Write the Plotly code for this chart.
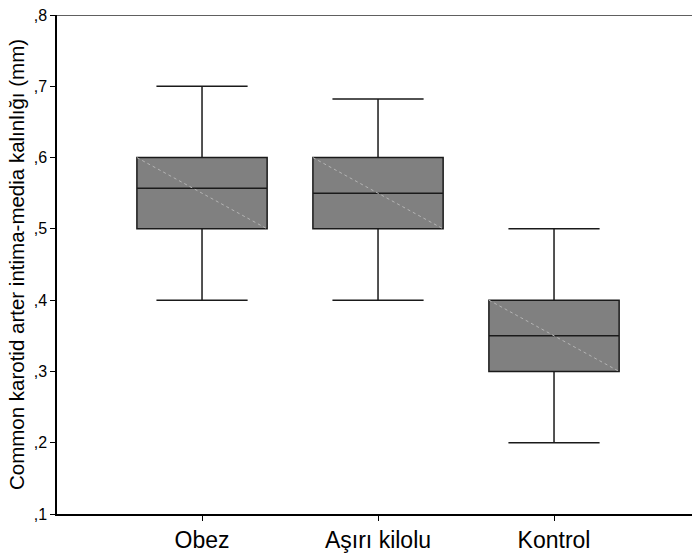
import plotly.graph_objects as go

# Group summary statistics (mm)
groups = ["Obez", "Aşırı kilolu", "Kontrol"]
positions = [1, 2, 3]
lower_whisker = [0.40, 0.40, 0.20]
q1 = [0.50, 0.50, 0.30]
median = [0.557, 0.55, 0.35]
q3 = [0.60, 0.60, 0.40]
upper_whisker = [0.70, 0.682, 0.50]

y_ticks = [0.1, 0.2, 0.3, 0.4, 0.5, 0.6, 0.7, 0.8]
y_tick_text = [",1", ",2", ",3", ",4", ",5", ",6", ",7", ",8"]

box_width = 0.74

fig = go.Figure()

for i, g in enumerate(groups):
    fig.add_trace(go.Box(
        x=[positions[i]],
        q1=[q1[i]], median=[median[i]], q3=[q3[i]],
        lowerfence=[lower_whisker[i]], upperfence=[upper_whisker[i]],
        width=box_width,
        whiskerwidth=0.7,
        fillcolor="#808080",
        line=dict(color="#1a1a1a", width=1.5),
        boxpoints=False,
        name=g,
        showlegend=False,
        hoverinfo="skip",
    ))
    # SPSS-style diagonal across the box
    fig.add_trace(go.Scatter(
        x=[positions[i] - box_width / 2, positions[i] + box_width / 2],
        y=[q3[i], q1[i]],
        mode="lines",
        line=dict(color="#b4b4b4", width=1, dash="dot"),
        showlegend=False,
        hoverinfo="skip",
    ))

# top frame line
fig.add_shape(type="line", xref="paper", yref="y", x0=0, x1=1, y0=0.8, y1=0.8,
              line=dict(color="#606060", width=2))

fig.update_layout(
    width=692, height=554,
    margin=dict(l=57, r=0, t=15, b=40),
    paper_bgcolor="white",
    plot_bgcolor="white",
    font=dict(family="Arial, Liberation Sans, sans-serif", color="black"),
    xaxis=dict(
        range=[0.176, 3.784],
        tickvals=positions,
        ticktext=groups,
        ticks="outside", ticklen=5, tickcolor="black",
        showline=True, linecolor="black", linewidth=1.5,
        showgrid=False, zeroline=False,
        tickfont=dict(size=23),
    ),
    yaxis=dict(
        range=[0.1, 0.8],
        tickvals=y_ticks,
        ticktext=y_tick_text,
        ticks="outside", ticklen=5, tickcolor="black",
        showline=True, linecolor="black", linewidth=1.5,
        showgrid=False, zeroline=False,
        tickfont=dict(size=16),
        title=dict(text="Common karotid arter intima-media kalınlığı (mm)",
                   font=dict(size=20.5), standoff=4),
    ),
)

fig.write_html("out.html")
